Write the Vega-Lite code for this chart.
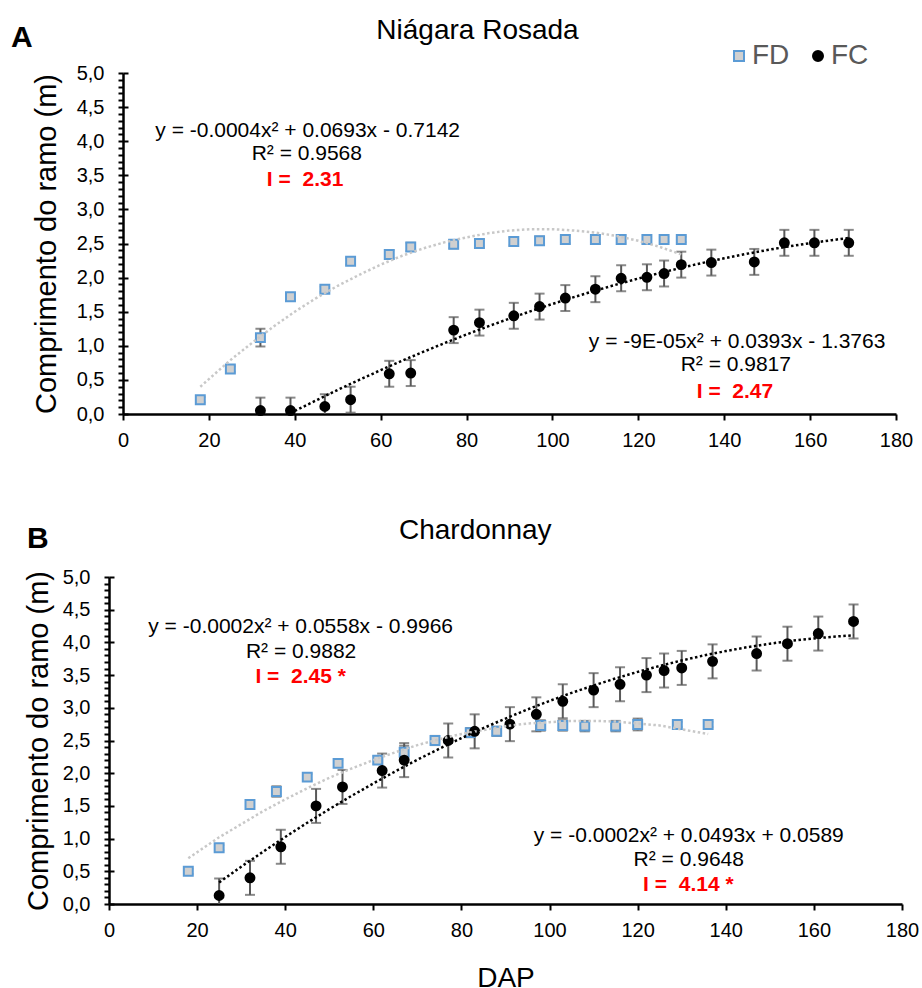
{
  "$schema": "https://vega.github.io/schema/vega-lite/v6.json",
  "padding": {"left": 11, "top": 17, "right": 5, "bottom": 0},
  "background": "white",
  "config": {
    "font": "Liberation Sans",
    "view": {"stroke": null},
    "axis": {"grid": false, "domainColor": "black", "domainWidth": 2.5, "tickColor": "black", "tickWidth": 2, "labelColor": "black", "labelFont": "Liberation Sans", "labelFontSize": 20, "titleFont": "Liberation Sans", "titleFontSize": 29, "titleFontWeight": "normal", "titleColor": "black", "labelOverlap": false, "labelFlush": false}
  },
  "datasets": {
    "ptsA": [
      {"dap": 18, "comp": 0.21, "erro": 0.04, "serie": "FD"},
      {"dap": 25, "comp": 0.66, "erro": 0.04, "serie": "FD"},
      {"dap": 32, "comp": 1.12, "erro": 0.13, "serie": "FD"},
      {"dap": 39, "comp": 1.72, "erro": 0.04, "serie": "FD"},
      {"dap": 47, "comp": 1.83, "erro": 0.04, "serie": "FD"},
      {"dap": 53, "comp": 2.24, "erro": 0.05, "serie": "FD"},
      {"dap": 62, "comp": 2.34, "erro": 0.06, "serie": "FD"},
      {"dap": 67, "comp": 2.45, "erro": 0.06, "serie": "FD"},
      {"dap": 77, "comp": 2.49, "erro": 0.06, "serie": "FD"},
      {"dap": 83, "comp": 2.50, "erro": 0.06, "serie": "FD"},
      {"dap": 91, "comp": 2.53, "erro": 0.06, "serie": "FD"},
      {"dap": 97, "comp": 2.54, "erro": 0.06, "serie": "FD"},
      {"dap": 103, "comp": 2.56, "erro": 0.06, "serie": "FD"},
      {"dap": 110, "comp": 2.56, "erro": 0.06, "serie": "FD"},
      {"dap": 116, "comp": 2.56, "erro": 0.06, "serie": "FD"},
      {"dap": 122, "comp": 2.56, "erro": 0.06, "serie": "FD"},
      {"dap": 126, "comp": 2.56, "erro": 0.04, "serie": "FD"},
      {"dap": 130, "comp": 2.56, "erro": 0.04, "serie": "FD"},
      {"dap": 32, "comp": 0.05, "erro": 0.19, "serie": "FC"},
      {"dap": 39, "comp": 0.05, "erro": 0.19, "serie": "FC"},
      {"dap": 47, "comp": 0.11, "erro": 0.18, "serie": "FC"},
      {"dap": 53, "comp": 0.21, "erro": 0.19, "serie": "FC"},
      {"dap": 62, "comp": 0.59, "erro": 0.19, "serie": "FC"},
      {"dap": 67, "comp": 0.60, "erro": 0.19, "serie": "FC"},
      {"dap": 77, "comp": 1.23, "erro": 0.19, "serie": "FC"},
      {"dap": 83, "comp": 1.34, "erro": 0.19, "serie": "FC"},
      {"dap": 91, "comp": 1.44, "erro": 0.19, "serie": "FC"},
      {"dap": 97, "comp": 1.575, "erro": 0.19, "serie": "FC"},
      {"dap": 103, "comp": 1.70, "erro": 0.19, "serie": "FC"},
      {"dap": 110, "comp": 1.83, "erro": 0.19, "serie": "FC"},
      {"dap": 116, "comp": 1.99, "erro": 0.19, "serie": "FC"},
      {"dap": 122, "comp": 2.005, "erro": 0.19, "serie": "FC"},
      {"dap": 126, "comp": 2.06, "erro": 0.19, "serie": "FC"},
      {"dap": 130, "comp": 2.19, "erro": 0.19, "serie": "FC"},
      {"dap": 137, "comp": 2.22, "erro": 0.19, "serie": "FC"},
      {"dap": 147, "comp": 2.23, "erro": 0.19, "serie": "FC"},
      {"dap": 154, "comp": 2.51, "erro": 0.19, "serie": "FC"},
      {"dap": 161, "comp": 2.51, "erro": 0.19, "serie": "FC"},
      {"dap": 169, "comp": 2.51, "erro": 0.19, "serie": "FC"}
    ],
    "ptsB": [
      {"dap": 18, "comp": 0.50, "erro": 0.04, "serie": "FD"},
      {"dap": 25, "comp": 0.86, "erro": 0.04, "serie": "FD"},
      {"dap": 32, "comp": 1.52, "erro": 0.04, "serie": "FD"},
      {"dap": 38, "comp": 1.72, "erro": 0.08, "serie": "FD"},
      {"dap": 45, "comp": 1.94, "erro": 0.05, "serie": "FD"},
      {"dap": 52, "comp": 2.15, "erro": 0.05, "serie": "FD"},
      {"dap": 61, "comp": 2.20, "erro": 0.06, "serie": "FD"},
      {"dap": 67, "comp": 2.32, "erro": 0.10, "serie": "FD"},
      {"dap": 74, "comp": 2.50, "erro": 0.07, "serie": "FD"},
      {"dap": 82, "comp": 2.62, "erro": 0.07, "serie": "FD"},
      {"dap": 88, "comp": 2.64, "erro": 0.07, "serie": "FD"},
      {"dap": 98, "comp": 2.73, "erro": 0.08, "serie": "FD"},
      {"dap": 103, "comp": 2.73, "erro": 0.08, "serie": "FD"},
      {"dap": 108, "comp": 2.72, "erro": 0.08, "serie": "FD"},
      {"dap": 115, "comp": 2.72, "erro": 0.08, "serie": "FD"},
      {"dap": 120, "comp": 2.745, "erro": 0.09, "serie": "FD"},
      {"dap": 129, "comp": 2.745, "erro": 0.04, "serie": "FD"},
      {"dap": 136, "comp": 2.745, "erro": 0.04, "serie": "FD"},
      {"dap": 25, "comp": 0.13, "erro": 0.26, "serie": "FC"},
      {"dap": 32, "comp": 0.40, "erro": 0.26, "serie": "FC"},
      {"dap": 39, "comp": 0.875, "erro": 0.26, "serie": "FC"},
      {"dap": 47, "comp": 1.50, "erro": 0.26, "serie": "FC"},
      {"dap": 53, "comp": 1.79, "erro": 0.26, "serie": "FC"},
      {"dap": 62, "comp": 2.04, "erro": 0.26, "serie": "FC"},
      {"dap": 67, "comp": 2.20, "erro": 0.26, "serie": "FC"},
      {"dap": 77, "comp": 2.50, "erro": 0.26, "serie": "FC"},
      {"dap": 83, "comp": 2.64, "erro": 0.26, "serie": "FC"},
      {"dap": 91, "comp": 2.75, "erro": 0.26, "serie": "FC"},
      {"dap": 97, "comp": 2.90, "erro": 0.26, "serie": "FC"},
      {"dap": 103, "comp": 3.10, "erro": 0.26, "serie": "FC"},
      {"dap": 110, "comp": 3.27, "erro": 0.26, "serie": "FC"},
      {"dap": 116, "comp": 3.36, "erro": 0.26, "serie": "FC"},
      {"dap": 122, "comp": 3.50, "erro": 0.26, "serie": "FC"},
      {"dap": 126, "comp": 3.57, "erro": 0.26, "serie": "FC"},
      {"dap": 130, "comp": 3.61, "erro": 0.26, "serie": "FC"},
      {"dap": 137, "comp": 3.71, "erro": 0.26, "serie": "FC"},
      {"dap": 147, "comp": 3.83, "erro": 0.26, "serie": "FC"},
      {"dap": 154, "comp": 3.98, "erro": 0.26, "serie": "FC"},
      {"dap": 161, "comp": 4.135, "erro": 0.26, "serie": "FC"},
      {"dap": 169, "comp": 4.32, "erro": 0.26, "serie": "FC"}
    ],
    "tFDA": [
      {"dap": 18, "comp": 0.40}, {"dap": 25, "comp": 0.79}, {"dap": 30, "comp": 1.04}, {"dap": 35, "comp": 1.28},
      {"dap": 40, "comp": 1.50}, {"dap": 45, "comp": 1.70}, {"dap": 50, "comp": 1.88}, {"dap": 55, "comp": 2.04},
      {"dap": 60, "comp": 2.19}, {"dap": 65, "comp": 2.32}, {"dap": 70, "comp": 2.43}, {"dap": 75, "comp": 2.52},
      {"dap": 80, "comp": 2.59}, {"dap": 85, "comp": 2.65}, {"dap": 90, "comp": 2.69}, {"dap": 95, "comp": 2.71},
      {"dap": 100, "comp": 2.71}, {"dap": 105, "comp": 2.69}, {"dap": 110, "comp": 2.66}, {"dap": 115, "comp": 2.61},
      {"dap": 120, "comp": 2.54}, {"dap": 125, "comp": 2.45}, {"dap": 130, "comp": 2.34}
    ],
    "tFCA": [
      {"dap": 40, "comp": 0.045}, {"dap": 45, "comp": 0.20}, {"dap": 50, "comp": 0.354}, {"dap": 55, "comp": 0.50},
      {"dap": 60, "comp": 0.643}, {"dap": 65, "comp": 0.781}, {"dap": 70, "comp": 0.914}, {"dap": 75, "comp": 1.042},
      {"dap": 80, "comp": 1.166}, {"dap": 85, "comp": 1.285}, {"dap": 90, "comp": 1.399}, {"dap": 95, "comp": 1.509},
      {"dap": 100, "comp": 1.614}, {"dap": 105, "comp": 1.714}, {"dap": 110, "comp": 1.809}, {"dap": 115, "comp": 1.90},
      {"dap": 120, "comp": 1.986}, {"dap": 125, "comp": 2.067}, {"dap": 130, "comp": 2.144}, {"dap": 135, "comp": 2.216},
      {"dap": 140, "comp": 2.283}, {"dap": 145, "comp": 2.346}, {"dap": 150, "comp": 2.404}, {"dap": 155, "comp": 2.457},
      {"dap": 160, "comp": 2.505}, {"dap": 165, "comp": 2.549}, {"dap": 169, "comp": 2.581}
    ],
    "tFDB": [
      {"dap": 18, "comp": 0.70}, {"dap": 25, "comp": 1.02}, {"dap": 30, "comp": 1.22}, {"dap": 35, "comp": 1.42},
      {"dap": 40, "comp": 1.60}, {"dap": 45, "comp": 1.77}, {"dap": 50, "comp": 1.93}, {"dap": 55, "comp": 2.07},
      {"dap": 60, "comp": 2.20}, {"dap": 65, "comp": 2.32}, {"dap": 70, "comp": 2.43}, {"dap": 75, "comp": 2.52},
      {"dap": 80, "comp": 2.60}, {"dap": 85, "comp": 2.66}, {"dap": 90, "comp": 2.72}, {"dap": 95, "comp": 2.76},
      {"dap": 100, "comp": 2.78}, {"dap": 105, "comp": 2.80}, {"dap": 110, "comp": 2.80}, {"dap": 115, "comp": 2.79},
      {"dap": 120, "comp": 2.76}, {"dap": 125, "comp": 2.73}, {"dap": 130, "comp": 2.67}, {"dap": 136, "comp": 2.60}
    ],
    "tFCB": [
      {"dap": 25, "comp": 0.33}, {"dap": 30, "comp": 0.57}, {"dap": 35, "comp": 0.80}, {"dap": 40, "comp": 1.025},
      {"dap": 45, "comp": 1.242}, {"dap": 50, "comp": 1.45}, {"dap": 55, "comp": 1.651}, {"dap": 60, "comp": 1.843},
      {"dap": 65, "comp": 2.028}, {"dap": 70, "comp": 2.206}, {"dap": 75, "comp": 2.375}, {"dap": 80, "comp": 2.537},
      {"dap": 85, "comp": 2.69}, {"dap": 90, "comp": 2.836}, {"dap": 95, "comp": 2.975}, {"dap": 100, "comp": 3.105},
      {"dap": 105, "comp": 3.228}, {"dap": 110, "comp": 3.342}, {"dap": 115, "comp": 3.449}, {"dap": 120, "comp": 3.549},
      {"dap": 125, "comp": 3.64}, {"dap": 130, "comp": 3.724}, {"dap": 135, "comp": 3.80}, {"dap": 140, "comp": 3.867},
      {"dap": 145, "comp": 3.928}, {"dap": 150, "comp": 3.98}, {"dap": 155, "comp": 4.025}, {"dap": 160, "comp": 4.061},
      {"dap": 165, "comp": 4.09}, {"dap": 169, "comp": 4.108}
    ],
    "txtA": [
      {"dap": 43.0, "comp": 4.066, "txt": "y = -0.0004x² + 0.0693x - 0.7142"},
      {"dap": 42.8, "comp": 3.724, "txt": "R² = 0.9568"},
      {"dap": 143.0, "comp": 0.975, "txt": "y = -9E-05x² + 0.0393x - 1.3763"},
      {"dap": 142.7, "comp": 0.63, "txt": "R² = 0.9817"}
    ],
    "txtAI": [
      {"dap": 42.4, "comp": 3.345, "txt": "I = \u00a02.31"},
      {"dap": 142.5, "comp": 0.24, "txt": "I = \u00a02.47"}
    ],
    "txtB": [
      {"dap": 43.5, "comp": 4.139, "txt": "y = -0.0002x² + 0.0558x - 0.9966"},
      {"dap": 43.6, "comp": 3.757, "txt": "R² = 0.9882"},
      {"dap": 131.6, "comp": 0.953, "txt": "y = -0.0002x² + 0.0493x + 0.0589"},
      {"dap": 131.6, "comp": 0.581, "txt": "R² = 0.9648"}
    ],
    "txtBI": [
      {"dap": 43.5, "comp": 3.384, "txt": "I = \u00a02.45 *"},
      {"dap": 131.5, "comp": 0.204, "txt": "I = \u00a04.14 *"}
    ],
    "letA": [{"dap": -26.08, "comp": 5.381, "txt": "A"}],
    "letB": [{"dap": -18.61, "comp": 5.443, "txt": "B"}],
    "titA": [{"dap": 82.55, "comp": 5.494, "txt": "Niágara Rosada"}],
    "titB": [{"dap": 83.14, "comp": 5.576, "txt": "Chardonnay"}]
  },
  "spacing": 163,
  "bounds": "flush",
  "resolve": {
    "scale": {"fill": "independent", "stroke": "independent", "shape": "independent"},
    "legend": {"fill": "independent", "stroke": "independent", "shape": "independent"}
  },
  "vconcat": [
    {
      "width": 787,
      "height": 341,
      "encoding": {
        "x": {"field": "dap", "type": "quantitative",
          "scale": {"domain": [0, 180], "range": [14, 787], "nice": false, "zero": false},
          "axis": {"values": [0, 20, 40, 60, 80, 100, 120, 140, 160, 180], "tickSize": 6, "labelPadding": 10, "title": null}}
      },
      "layer": [
        {
          "data": {"name": "ptsA"},
          "mark": {"type": "errorbar", "ticks": true, "size": 10, "thickness": 2, "color": "#595959", "clip": true},
          "encoding": {
            "y": {"field": "comp", "type": "quantitative", "scale": {"domain": [0, 5], "nice": false, "zero": false}, "axis": null},
            "yError": {"field": "erro"}
          }
        },
        {
          "data": {"name": "ptsA"},
          "mark": {"type": "point", "filled": true, "size": 80, "strokeWidth": 2, "opacity": 1},
          "encoding": {
            "y": {"field": "comp", "type": "quantitative", "scale": {"domain": [0, 5], "nice": false, "zero": false},
              "axis": {"orient": "left", "offset": -14, "values": [0,0.1,0.2,0.3,0.4,0.5,0.6,0.7,0.8,0.9,1,1.1,1.2,1.3,1.4,1.5,1.6,1.7,1.8,1.9,2,2.1,2.2,2.3,2.4,2.5,2.6,2.7,2.8,2.9,3,3.1,3.2,3.3,3.4,3.5,3.6,3.7,3.8,3.9,4,4.1,4.2,4.3,4.4,4.5,4.6,4.7,4.8,4.9,5],
                "labelExpr": "abs(datum.value*2 - round(datum.value*2)) < 0.01 ? replace(format(datum.value, '.1f'), '.', ',') : ''",
                "tickSize": 5, "labelPadding": 14, "title": "Comprimento do ramo (m)", "titlePadding": 15}},
            "fill": {"field": "serie", "type": "nominal", "scale": {"domain": ["FD", "FC"], "range": ["#d0d0d0", "#000000"]},
              "legend": {"title": null, "orient": "none", "legendX": 616, "legendY": -31, "direction": "horizontal", "labelFontSize": 28, "labelColor": "#595959", "symbolSize": 100, "symbolStrokeWidth": 2, "columnPadding": 14, "labelOffset": -1, "padding": 0}},
            "stroke": {"field": "serie", "type": "nominal", "scale": {"domain": ["FD", "FC"], "range": ["#5b9bd5", "#000000"]},
              "legend": {"title": null, "orient": "none", "legendX": 616, "legendY": -31, "direction": "horizontal", "labelFontSize": 28, "labelColor": "#595959", "symbolSize": 100, "symbolStrokeWidth": 2, "columnPadding": 14, "labelOffset": -1, "padding": 0}},
            "shape": {"field": "serie", "type": "nominal", "scale": {"domain": ["FD", "FC"], "range": ["square", "circle"]},
              "legend": {"title": null, "orient": "none", "legendX": 616, "legendY": -31, "direction": "horizontal", "labelFontSize": 28, "labelColor": "#595959", "symbolSize": 100, "symbolStrokeWidth": 2, "columnPadding": 14, "labelOffset": -1, "padding": 0}}
          }
        },
        {
          "data": {"name": "tFDA"},
          "mark": {"type": "line", "color": "#c8c8c8", "strokeWidth": 2.5, "strokeDash": [2.5, 2.5]},
          "encoding": {
            "y": {"field": "comp", "type": "quantitative", "scale": {"domain": [0, 5], "nice": false, "zero": false},
              "axis": {"orient": "left", "offset": -14, "values": [0,0.5,1,1.5,2,2.5,3,3.5,4,4.5,5], "tickSize": -5, "labels": false, "domain": false, "title": null}}
          }
        },
        {
          "data": {"name": "tFCA"},
          "mark": {"type": "line", "color": "#000000", "strokeWidth": 2.5, "strokeDash": [2.5, 2.5]},
          "encoding": {
            "y": {"field": "comp", "type": "quantitative", "scale": {"domain": [0, 5], "nice": false, "zero": false}, "axis": null}
          }
        },
        {
          "data": {"name": "txtA"},
          "mark": {"type": "text", "fontSize": 21, "color": "#000000", "align": "center", "baseline": "alphabetic"},
          "encoding": {
            "y": {"field": "comp", "type": "quantitative", "scale": {"domain": [0, 5], "nice": false, "zero": false}, "axis": null},
            "text": {"field": "txt"}
          }
        },
        {
          "data": {"name": "txtAI"},
          "mark": {"type": "text", "fontSize": 21, "fontWeight": "bold", "color": "#ff0000", "align": "center", "baseline": "alphabetic"},
          "encoding": {
            "y": {"field": "comp", "type": "quantitative", "scale": {"domain": [0, 5], "nice": false, "zero": false}, "axis": null},
            "text": {"field": "txt"}
          }
        },
        {
          "data": {"name": "letA"},
          "mark": {"type": "text", "fontSize": 30, "fontWeight": "bold", "color": "#000000", "align": "left", "baseline": "alphabetic"},
          "encoding": {
            "y": {"field": "comp", "type": "quantitative", "scale": {"domain": [0, 5], "nice": false, "zero": false}, "axis": null},
            "text": {"field": "txt"}
          }
        },
        {
          "data": {"name": "titA"},
          "mark": {"type": "text", "fontSize": 28, "color": "#000000", "align": "center", "baseline": "alphabetic"},
          "encoding": {
            "y": {"field": "comp", "type": "quantitative", "scale": {"domain": [0, 5], "nice": false, "zero": false}, "axis": null},
            "text": {"field": "txt"}
          }
        }
      ],
      "resolve": {"axis": {"y": "independent"}}
    },
    {
      "width": 793,
      "height": 327,
      "encoding": {
        "x": {"field": "dap", "type": "quantitative",
          "scale": {"domain": [0, 180], "nice": false, "zero": false},
          "axis": {"values": [0, 20, 40, 60, 80, 100, 120, 140, 160, 180], "tickSize": 6, "labelPadding": 10, "title": "DAP", "titleFontSize": 28, "titlePadding": 24}}
      },
      "layer": [
        {
          "data": {"name": "ptsB"},
          "mark": {"type": "errorbar", "ticks": true, "size": 10, "thickness": 2, "color": "#595959", "clip": true},
          "encoding": {
            "y": {"field": "comp", "type": "quantitative", "scale": {"domain": [0, 5], "nice": false, "zero": false}, "axis": null},
            "yError": {"field": "erro"}
          }
        },
        {
          "data": {"name": "ptsB"},
          "mark": {"type": "point", "filled": true, "size": 80, "strokeWidth": 2, "opacity": 1},
          "encoding": {
            "y": {"field": "comp", "type": "quantitative", "scale": {"domain": [0, 5], "nice": false, "zero": false},
              "axis": {"orient": "left", "values": [0,0.1,0.2,0.3,0.4,0.5,0.6,0.7,0.8,0.9,1,1.1,1.2,1.3,1.4,1.5,1.6,1.7,1.8,1.9,2,2.1,2.2,2.3,2.4,2.5,2.6,2.7,2.8,2.9,3,3.1,3.2,3.3,3.4,3.5,3.6,3.7,3.8,3.9,4,4.1,4.2,4.3,4.4,4.5,4.6,4.7,4.8,4.9,5],
                "labelExpr": "abs(datum.value*2 - round(datum.value*2)) < 0.01 ? replace(format(datum.value, '.1f'), '.', ',') : ''",
                "tickSize": 5, "labelPadding": 14, "title": "Comprimento do ramo (m)", "titlePadding": 9}},
            "fill": {"field": "serie", "type": "nominal", "scale": {"domain": ["FD", "FC"], "range": ["#d0d0d0", "#000000"]}, "legend": null},
            "stroke": {"field": "serie", "type": "nominal", "scale": {"domain": ["FD", "FC"], "range": ["#5b9bd5", "#000000"]}, "legend": null},
            "shape": {"field": "serie", "type": "nominal", "scale": {"domain": ["FD", "FC"], "range": ["square", "circle"]}, "legend": null}
          }
        },
        {
          "data": {"name": "tFDB"},
          "mark": {"type": "line", "color": "#c8c8c8", "strokeWidth": 2.5, "strokeDash": [2.5, 2.5]},
          "encoding": {
            "y": {"field": "comp", "type": "quantitative", "scale": {"domain": [0, 5], "nice": false, "zero": false},
              "axis": {"orient": "left", "values": [0,0.5,1,1.5,2,2.5,3,3.5,4,4.5,5], "tickSize": -5, "labels": false, "domain": false, "title": null}}
          }
        },
        {
          "data": {"name": "tFCB"},
          "mark": {"type": "line", "color": "#000000", "strokeWidth": 2.5, "strokeDash": [2.5, 2.5]},
          "encoding": {
            "y": {"field": "comp", "type": "quantitative", "scale": {"domain": [0, 5], "nice": false, "zero": false}, "axis": null}
          }
        },
        {
          "data": {"name": "txtB"},
          "mark": {"type": "text", "fontSize": 21, "color": "#000000", "align": "center", "baseline": "alphabetic"},
          "encoding": {
            "y": {"field": "comp", "type": "quantitative", "scale": {"domain": [0, 5], "nice": false, "zero": false}, "axis": null},
            "text": {"field": "txt"}
          }
        },
        {
          "data": {"name": "txtBI"},
          "mark": {"type": "text", "fontSize": 21, "fontWeight": "bold", "color": "#ff0000", "align": "center", "baseline": "alphabetic"},
          "encoding": {
            "y": {"field": "comp", "type": "quantitative", "scale": {"domain": [0, 5], "nice": false, "zero": false}, "axis": null},
            "text": {"field": "txt"}
          }
        },
        {
          "data": {"name": "letB"},
          "mark": {"type": "text", "fontSize": 30, "fontWeight": "bold", "color": "#000000", "align": "left", "baseline": "alphabetic"},
          "encoding": {
            "y": {"field": "comp", "type": "quantitative", "scale": {"domain": [0, 5], "nice": false, "zero": false}, "axis": null},
            "text": {"field": "txt"}
          }
        },
        {
          "data": {"name": "titB"},
          "mark": {"type": "text", "fontSize": 28, "color": "#000000", "align": "center", "baseline": "alphabetic"},
          "encoding": {
            "y": {"field": "comp", "type": "quantitative", "scale": {"domain": [0, 5], "nice": false, "zero": false}, "axis": null},
            "text": {"field": "txt"}
          }
        }
      ],
      "resolve": {"axis": {"y": "independent"}}
    }
  ]
}
